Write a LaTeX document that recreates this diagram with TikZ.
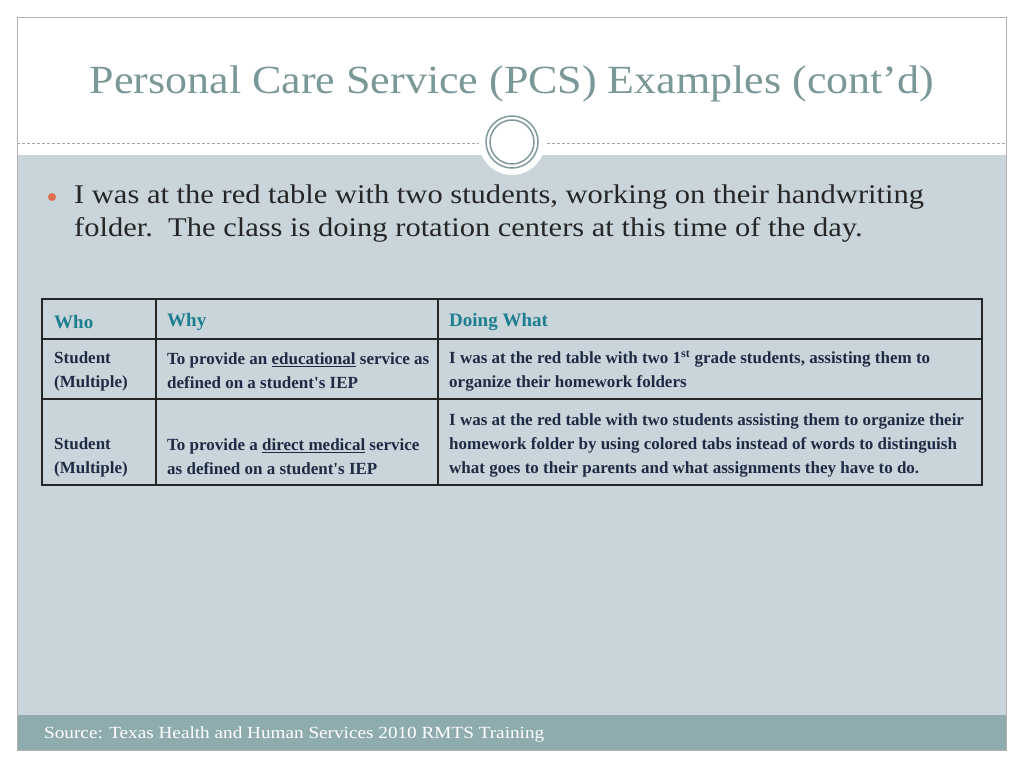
\documentclass[tikz,border=0pt]{standalone}
\usepackage{fontspec}
\setmainfont{Liberation Serif}
\newfontfamily\tabfont{Liberation Serif}
\newfontfamily\widefont[FakeStretch=1.13]{Liberation Serif}
\newfontfamily\ttlfont[FakeStretch=1.1]{Liberation Serif}
\definecolor{bg}{HTML}{C9D5DA}
\definecolor{foot}{HTML}{8EABAD}
\definecolor{ttl}{HTML}{7A9898}
\definecolor{ring}{HTML}{7F9A9C}
\definecolor{hd}{HTML}{1C7E8E}
\definecolor{tx}{HTML}{1E2B45}
\definecolor{bul}{HTML}{E07050}
\tikzset{cell/.style={anchor=west,align=left,text=tx,font=\tabfont\bfseries\fontsize{17}{24}\selectfont,inner sep=0pt},
hcell/.style={anchor=west,text=hd,font=\tabfont\bfseries\fontsize{19}{24}\selectfont,inner sep=0pt}}
\begin{document}
\begin{tikzpicture}[x=1pt,y=-1pt]
\useasboundingbox (0,0) rectangle (1024,768);
\fill[white] (0,0) rectangle (1024,768);
\fill[bg] (17,155) rectangle (1006,715);
\fill[foot] (17,715) rectangle (1006,750);
\draw[gray!60] (17,17) rectangle (1006,750);
\draw[gray!70,densely dashed,line width=0.6pt] (17,143) -- (1006,143);
\fill[white] (512,142) circle (33);
\draw[ring,line width=1.5pt] (512,142) circle (26);
\draw[ring,line width=1.5pt] (512,142) circle (22);
\node[text=ttl,font=\ttlfont\fontsize{40}{44}\selectfont] (title) at (512,84) {Personal Care Service (PCS) Examples (cont’d)};
\fill[bul] (52,197) circle (4);
\node[anchor=north west,align=left,text=black!85,font=\widefont\fontsize{27}{33}\selectfont,inner sep=0pt] (body) at (74,185)
 {I was at the red table with two students, working on their handwriting\\folder.\ \ The class is doing rotation centers at this time of the day.};
\draw[line width=1.3pt,black!85] (42,299) rectangle (982,485);
\draw[line width=1.3pt,black!85] (42,339) -- (982,339) (42,399) -- (982,399)
 (156,299) -- (156,485) (438,299) -- (438,485);
\node[hcell] (h1) at (54,322) {Who};
\node[hcell] (h2) at (167,322) {Why};
\node[hcell] (h3) at (449,322) {Doing What};
\node[cell] (a1) at (54,371) {Student\\(Multiple)};
\node[cell] (b1) at (167,371) {To provide an \underline{educational} service as\\defined on a student's IEP};
\node[cell] (c1) at (449,371) {I was at the red table with two 1\textsuperscript{st} grade students, assisting them to\\organize their homework folders};
\node[cell] (a2) at (54,457) {Student\\(Multiple)};
\node[cell] (b2) at (167,457) {To provide a \underline{direct medical} service\\as defined on a student's IEP};
\node[cell] (c2) at (449,445) {I was at the red table with two students assisting them to organize their\\homework folder by using colored tabs instead of words to distinguish\\what goes to their parents and what assignments they have to do.};
\node[anchor=west,text=white,font=\widefont\fontsize{17}{18}\selectfont,inner sep=0pt] (src) at (44,734) {Source: Texas Health and Human Services 2010 RMTS Training};
\end{tikzpicture}
\end{document}
